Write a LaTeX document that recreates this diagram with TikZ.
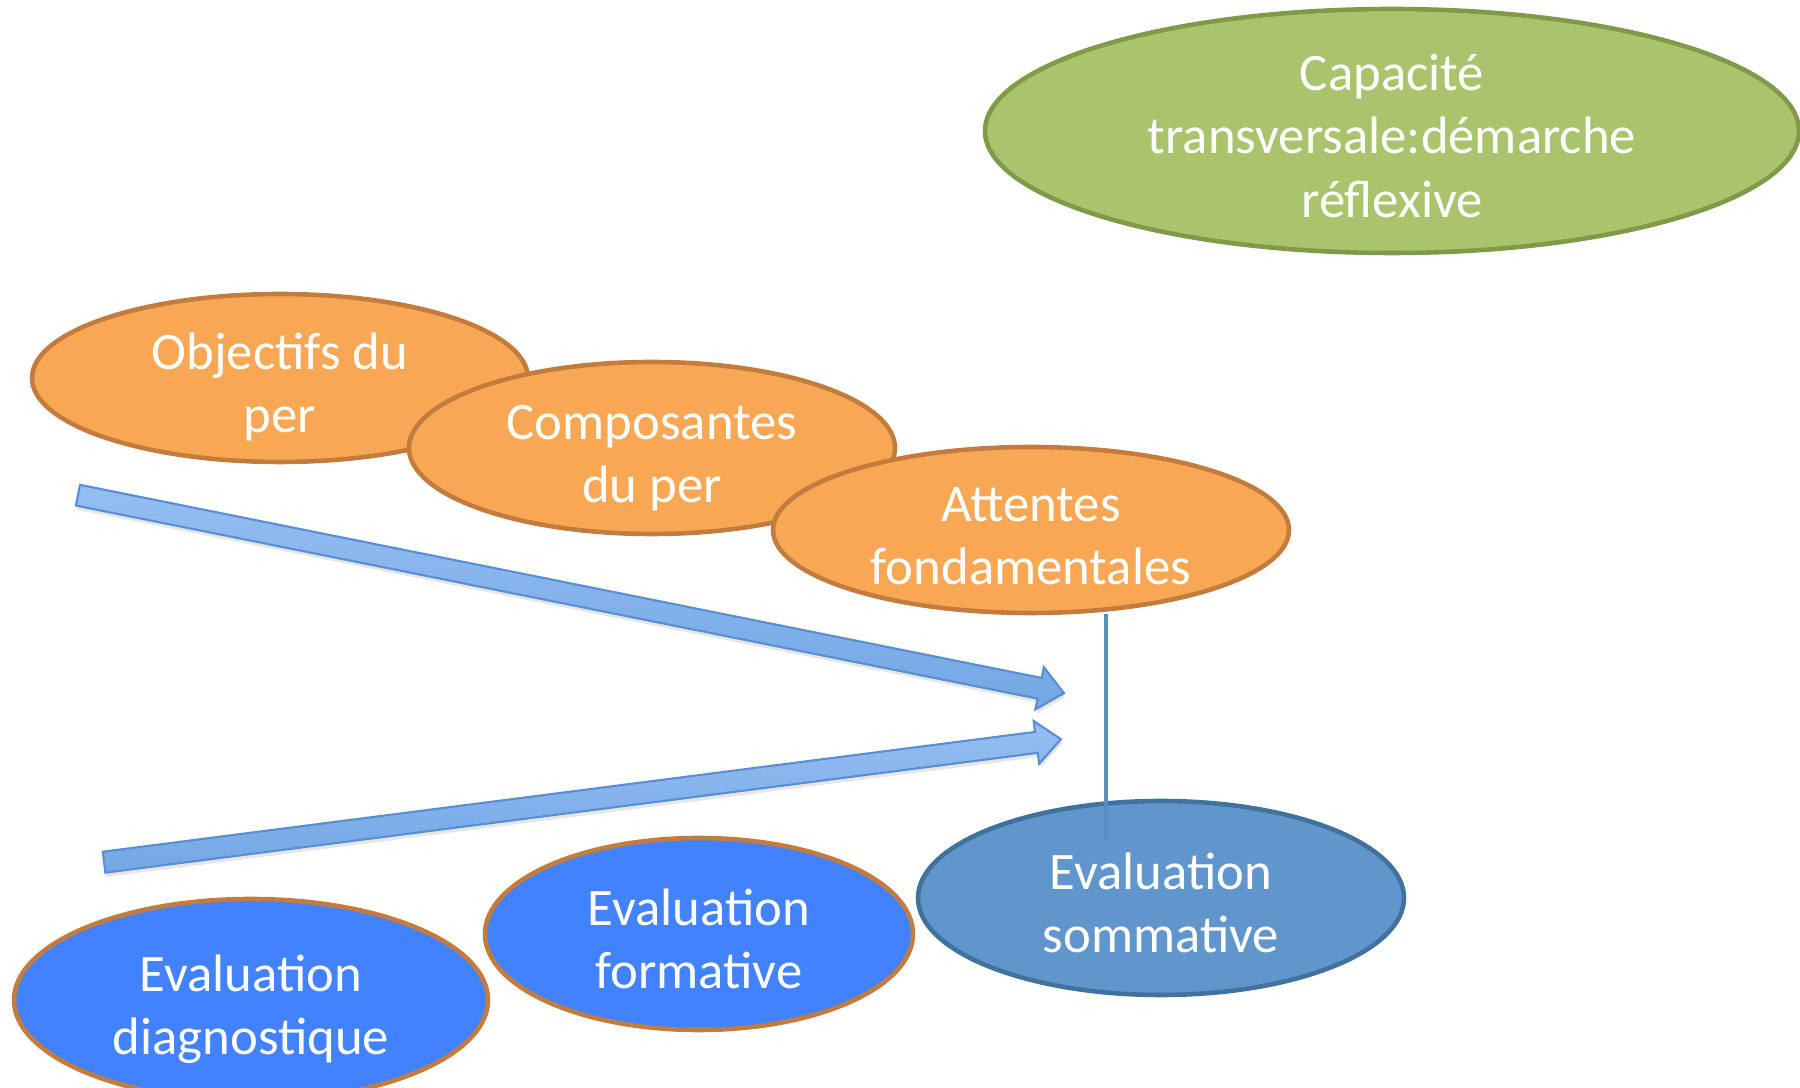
\documentclass[tikz,border=0pt]{standalone}
\usepackage{fontspec}
\setmainfont{Carlito}
\usetikzlibrary{shapes.geometric,shapes.arrows,calc,shadows}

\definecolor{orangefill}{HTML}{F8A755}
\definecolor{orangeline}{HTML}{C47C3E}
\definecolor{vertfill}{HTML}{A9C46D}
\definecolor{vertline}{HTML}{7F9B4A}
\definecolor{bleufill}{HTML}{4282FE}
\definecolor{sommfill}{HTML}{6096CB}
\definecolor{sommline}{HTML}{41729E}
\definecolor{flecheclair}{HTML}{93BEF2}
\definecolor{flechefonce}{HTML}{74A7E4}
\definecolor{flecheline}{HTML}{5A8ED3}
\definecolor{lienline}{HTML}{5B8DC5}

\newcommand\lignes[1]{\raisebox{-6.5pt}[0pt][0pt]{\begin{tabular}{@{}c@{}}#1\end{tabular}}}

\tikzset{
  bulle/.style={ellipse, inner sep=0pt, text=white,
    font=\fontsize{15}{18}\selectfont, line width=1.3pt},
  per/.style={bulle, fill=orangefill, draw=orangeline},
  evalbleu/.style={bulle, fill=bleufill, draw=orangeline},
  fleche/.style={single arrow, inner sep=0.095cm, single arrow head extend=0.11cm,
    single arrow tip angle=82, top color=flecheclair, bottom color=flechefonce,
    draw=flecheline, line width=0.6pt,
    drop shadow={opacity=0.2, shadow xshift=0.4pt, shadow yshift=-1.2pt}}
}

\begin{document}
\begin{tikzpicture}
  \useasboundingbox (0,0) rectangle (18,10.88);
  \node[bulle, fill=vertfill, draw=vertline, minimum width=8.14cm, minimum height=2.44cm]
    (capacite) at (13.92,9.57) {\lignes{Capacité\\transversale:démarche\\réflexive}};
  \node[per, minimum width=4.96cm, minimum height=1.68cm] (objectifs) at (2.80,7.10) {\lignes{Objectifs du\\per}};
  \node[per, minimum width=4.86cm, minimum height=1.72cm] (composantes) at (6.52,6.40) {\lignes{Composantes\\du per}};
  \node[per, minimum width=5.16cm, minimum height=1.66cm] (attentes) at (10.31,5.58) {\lignes{Attentes\\fondamentales}};
  \node[evalbleu, minimum width=4.74cm, minimum height=2.02cm] (diagnostique) at (2.51,0.88) {\lignes{Evaluation\\diagnostique}};
  \node[evalbleu, minimum width=4.28cm, minimum height=1.92cm] (formative) at (6.99,1.54) {\lignes{Evaluation\\formative}};
  \node[bulle, fill=sommfill, draw=sommline, minimum width=4.86cm, minimum height=1.94cm]
    (sommative) at (11.61,1.90) {\lignes{Evaluation\\sommative}};
  \coordinate (lienhaut) at (11.06,4.74);
  \coordinate (lienbas) at (11.06,2.48);
  \draw[lienline, line width=1.3pt] (lienhaut) -- (lienbas);
  \coordinate (f1a) at (0.72,5.94);
  \coordinate (f1b) at (10.58,3.96);
  \coordinate (f2a) at (0.98,2.25);
  \coordinate (f2b) at (10.55,3.48);
  \path let \p1=($(f1b)-(f1a)$), \n1={atan2(\y1,\x1)}, \n2={veclen(\x1,\y1)} in
    node[fleche, minimum height=\n2, rotate=\n1] (fleche1) at ($(f1a)!0.5!(f1b)$) {};
  \path let \p1=($(f2b)-(f2a)$), \n1={atan2(\y1,\x1)}, \n2={veclen(\x1,\y1)} in
    node[fleche, minimum height=\n2, rotate=\n1] (fleche2) at ($(f2a)!0.5!(f2b)$) {};
\end{tikzpicture}
\end{document}
